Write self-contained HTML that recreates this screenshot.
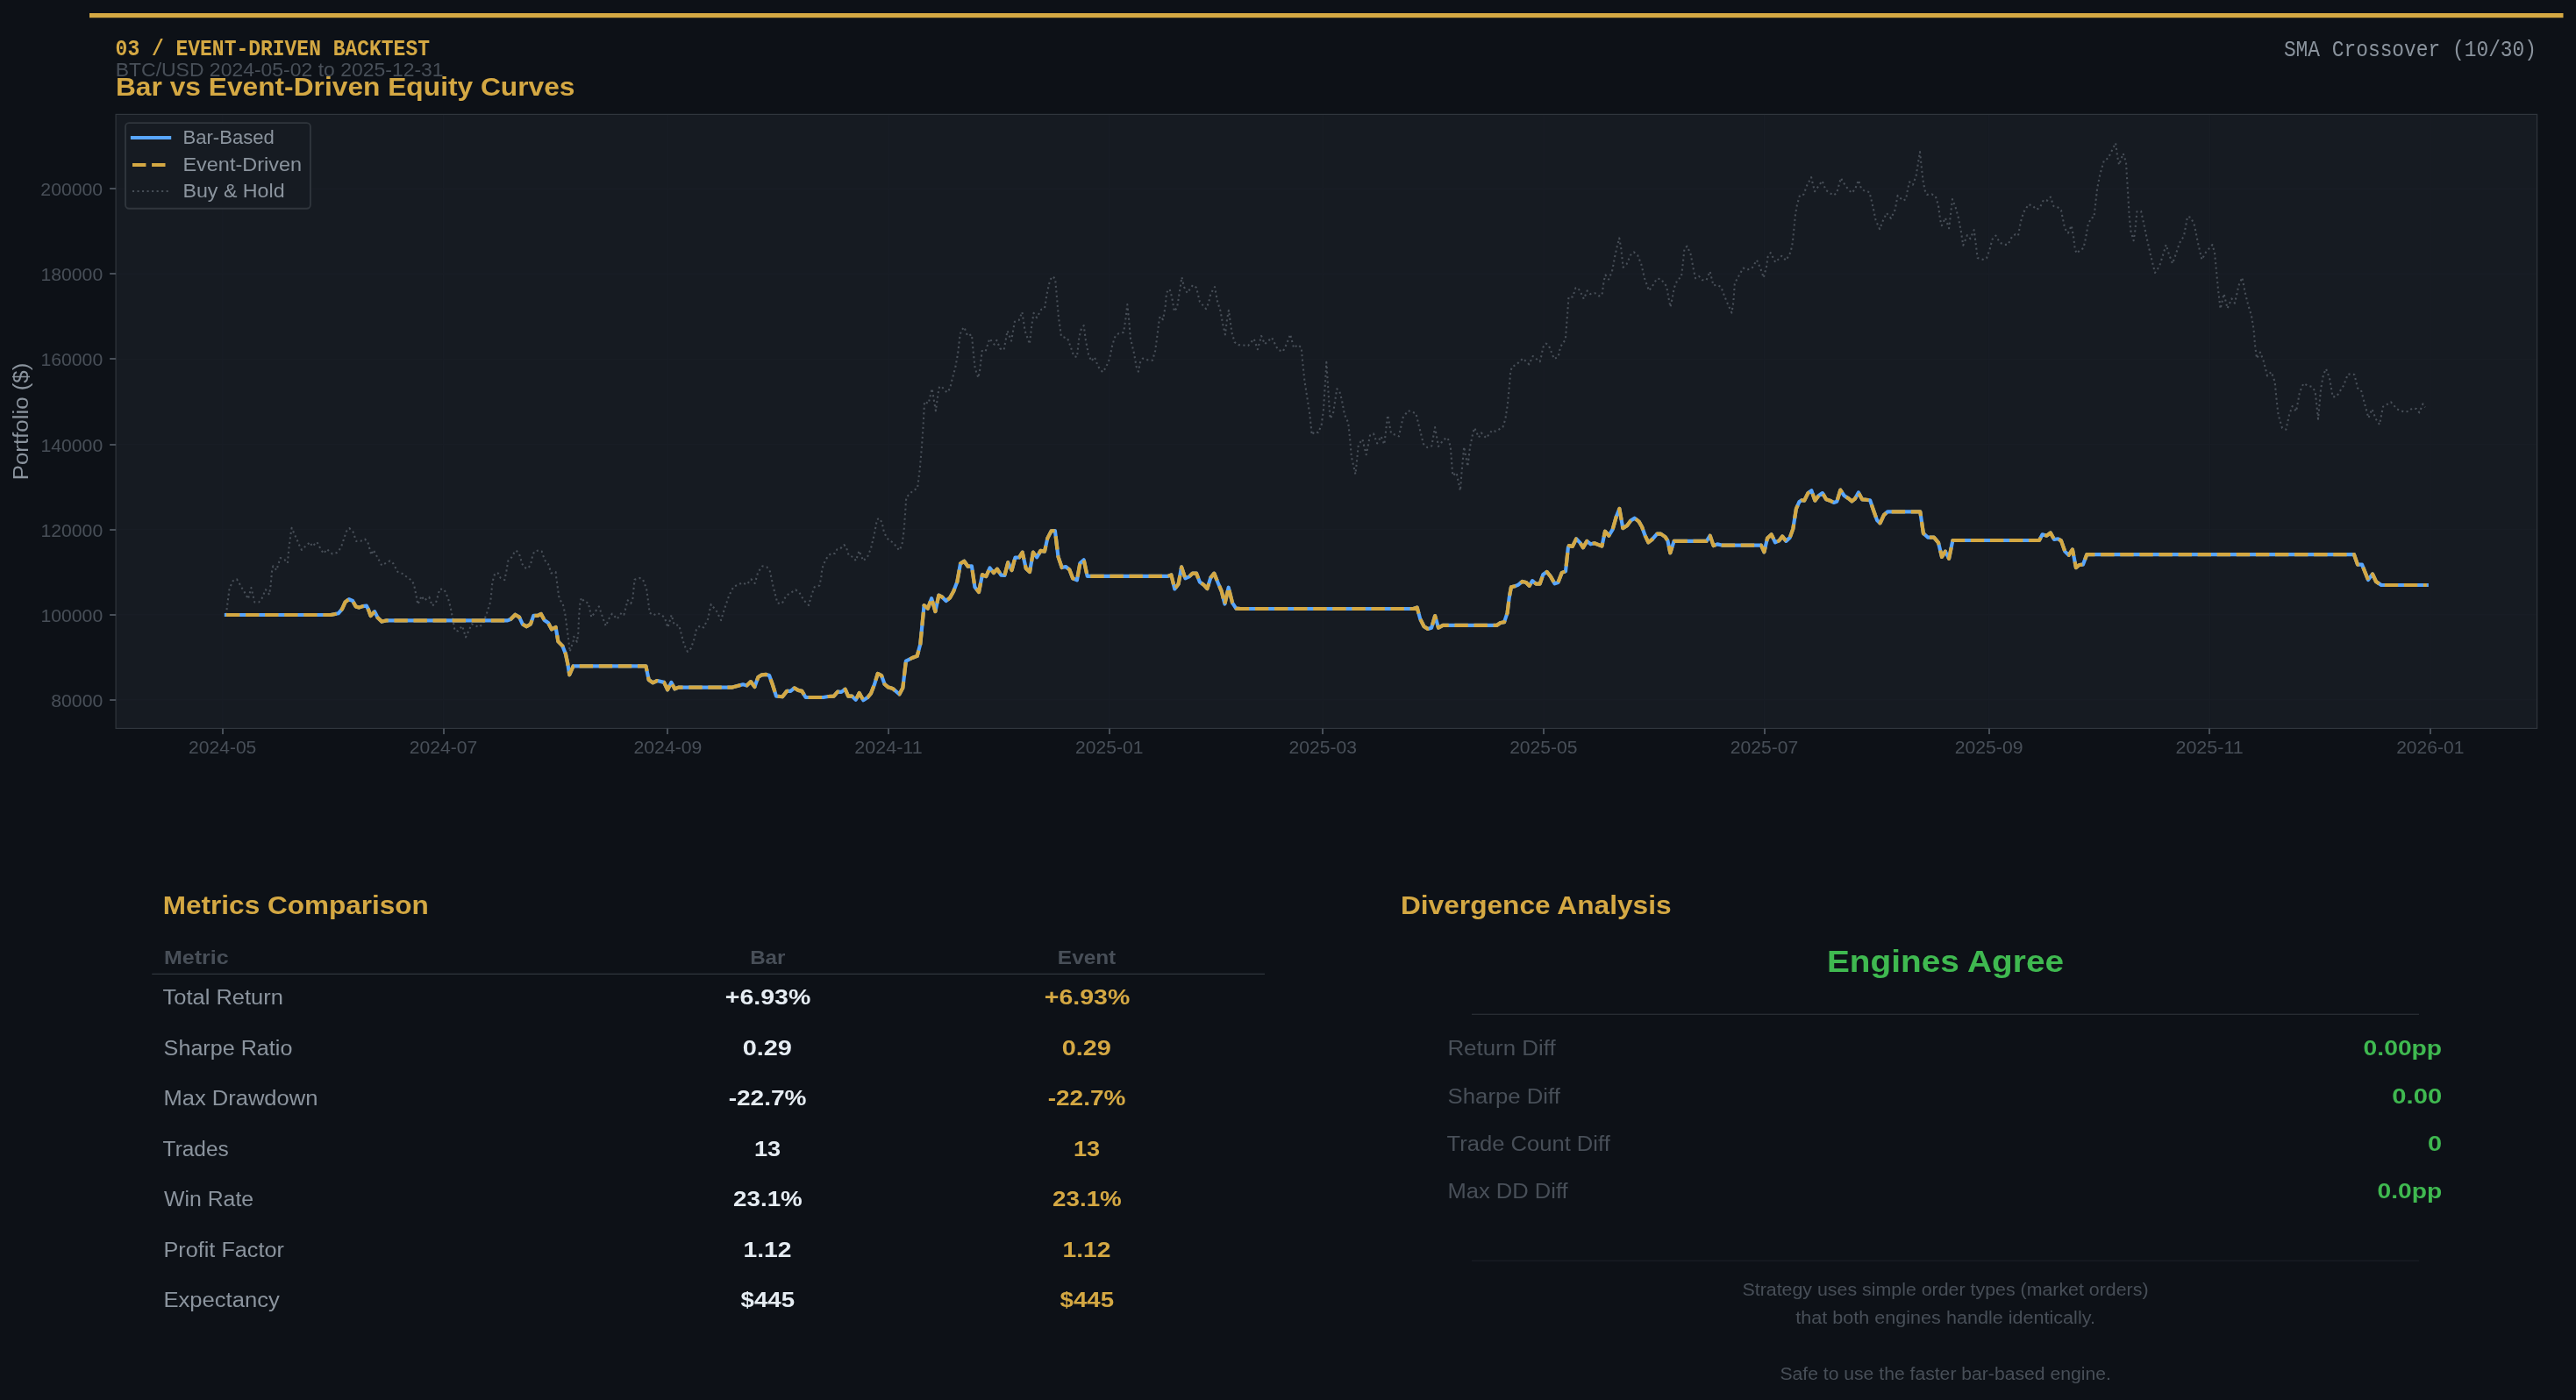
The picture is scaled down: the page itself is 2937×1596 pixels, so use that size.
<!DOCTYPE html>
<html><head><meta charset="utf-8"><title>Event-Driven Backtest</title>
<style>
html,body{margin:0;padding:0;background:#0d1117;}
body{width:2937px;height:1596px;overflow:hidden;font-family:"Liberation Sans",sans-serif;}
svg{display:block;will-change:transform;}
text{white-space:pre;}
</style></head><body>
<svg width="2937" height="1596" viewBox="0 0 2937 1596">
<rect x="0" y="0" width="2937" height="1596" fill="#0d1117"/>
<rect x="102" y="15.0" width="2820.5" height="5.2" fill="#d4a843"/>
<text x="131.60" y="63.0" font-family="Liberation Mono" font-size="24.98" font-weight="700" fill="#d4a843" textLength="358.37" lengthAdjust="spacingAndGlyphs">03 / EVENT-DRIVEN BACKTEST</text>
<text x="131.75" y="87.4" font-family="Liberation Sans" font-size="21.98" font-weight="400" fill="#484f58" textLength="373.85" lengthAdjust="spacingAndGlyphs">BTC/USD 2024-05-02 to 2025-12-31</text>
<text x="131.93" y="109.0" font-family="Liberation Sans" font-size="28.57" font-weight="700" fill="#d4a843" textLength="523.60" lengthAdjust="spacingAndGlyphs">Bar vs Event-Driven Equity Curves</text>
<text x="2603.89" y="64.4" font-family="Liberation Mono" font-size="24.98" font-weight="400" fill="#8b949e" textLength="288.16" lengthAdjust="spacingAndGlyphs">SMA Crossover (10/30)</text>
<rect x="132.1" y="130.4" width="2760.5" height="700.0" fill="#161b22"/>
<line x1="253.9" y1="130.4" x2="253.9" y2="830.4" stroke="#181d25" stroke-width="1.5"/>
<line x1="505.6" y1="130.4" x2="505.6" y2="830.4" stroke="#181d25" stroke-width="1.5"/>
<line x1="761.4" y1="130.4" x2="761.4" y2="830.4" stroke="#181d25" stroke-width="1.5"/>
<line x1="1013.2" y1="130.4" x2="1013.2" y2="830.4" stroke="#181d25" stroke-width="1.5"/>
<line x1="1264.9" y1="130.4" x2="1264.9" y2="830.4" stroke="#181d25" stroke-width="1.5"/>
<line x1="1508.3" y1="130.4" x2="1508.3" y2="830.4" stroke="#181d25" stroke-width="1.5"/>
<line x1="1760.0" y1="130.4" x2="1760.0" y2="830.4" stroke="#181d25" stroke-width="1.5"/>
<line x1="2011.7" y1="130.4" x2="2011.7" y2="830.4" stroke="#181d25" stroke-width="1.5"/>
<line x1="2267.6" y1="130.4" x2="2267.6" y2="830.4" stroke="#181d25" stroke-width="1.5"/>
<line x1="2519.3" y1="130.4" x2="2519.3" y2="830.4" stroke="#181d25" stroke-width="1.5"/>
<line x1="2771.0" y1="130.4" x2="2771.0" y2="830.4" stroke="#181d25" stroke-width="1.5"/>
<line x1="132.1" y1="797.8" x2="2892.6" y2="797.8" stroke="#181d25" stroke-width="1.5"/>
<line x1="132.1" y1="700.7" x2="2892.6" y2="700.7" stroke="#181d25" stroke-width="1.5"/>
<line x1="132.1" y1="603.6" x2="2892.6" y2="603.6" stroke="#181d25" stroke-width="1.5"/>
<line x1="132.1" y1="506.5" x2="2892.6" y2="506.5" stroke="#181d25" stroke-width="1.5"/>
<line x1="132.1" y1="409.4" x2="2892.6" y2="409.4" stroke="#181d25" stroke-width="1.5"/>
<line x1="132.1" y1="312.3" x2="2892.6" y2="312.3" stroke="#181d25" stroke-width="1.5"/>
<line x1="132.1" y1="215.2" x2="2892.6" y2="215.2" stroke="#181d25" stroke-width="1.5"/>
<path d="M258.0 700.7 L258.6 694.3 L259.3 688.6 L260.7 677.9 L261.4 672.4 L263.3 667.1 L265.7 662.1 L270.0 660.3 L273.1 665.4 L275.7 670.0 L278.6 674.7 L282.9 682.9 L286.4 670.0 L290.3 686.4 L295.3 686.4 L298.6 682.1 L302.9 672.1 L307.1 677.9 L308.6 667.1 L310.0 651.4 L311.4 645.3 L315.3 650.0 L319.6 636.0 L324.3 637.9 L327.9 641.9 L329.3 625.7 L331.4 609.3 L332.6 601.9 L337.1 612.1 L341.4 621.7 L343.9 626.9 L350.0 621.1 L353.6 618.1 L356.0 622.9 L361.4 617.9 L366.4 627.4 L369.3 631.0 L372.6 626.0 L378.9 631.4 L384.0 630.0 L387.1 626.4 L389.7 621.4 L391.4 616.4 L395.0 605.7 L398.3 602.1 L402.6 606.4 L406.1 616.9 L411.4 616.7 L416.0 614.6 L419.3 617.9 L423.3 632.6 L425.7 626.9 L430.0 634.7 L435.3 644.6 L440.0 641.9 L444.6 639.3 L448.6 642.6 L453.3 651.9 L458.6 653.9 L466.0 659.3 L469.6 661.9 L472.1 666.7 L474.3 677.9 L476.4 689.0 L480.7 679.3 L483.6 684.6 L489.3 680.7 L492.9 690.7 L497.1 686.7 L501.4 671.4 L506.4 671.9 L510.7 681.4 L513.6 692.1 L515.7 702.9 L518.6 719.0 L522.1 719.3 L527.1 713.6 L531.0 726.4 L537.9 711.4 L546.1 715.0 L550.0 711.7 L554.3 701.4 L559.3 685.7 L561.4 663.6 L564.3 653.6 L568.1 653.6 L570.7 658.9 L575.4 661.1 L576.4 655.7 L577.5 650.4 L578.4 644.9 L579.4 639.3 L583.2 635.4 L585.9 630.7 L588.6 627.5 L592.1 631.8 L593.7 637.1 L595.1 642.5 L597.9 647.0 L601.8 648.2 L604.9 643.9 L606.1 638.6 L607.3 633.1 L609.3 628.6 L614.4 627.4 L617.7 628.6 L619.4 633.7 L621.4 638.9 L625.0 643.0 L626.8 648.2 L628.4 653.4 L633.6 652.1 L634.1 657.5 L635.7 668.6 L637.0 679.3 L638.9 684.4 L641.8 688.9 L644.3 700.0 L646.4 715.7 L647.9 727.1 L649.7 742.9 L653.6 730.7 L654.3 725.7 L657.9 731.7 L659.3 721.4 L660.0 704.3 L661.4 687.9 L662.9 681.4 L666.4 686.4 L670.7 687.1 L674.3 703.6 L680.0 695.4 L682.9 691.4 L688.6 707.9 L690.7 713.6 L695.0 704.0 L697.9 699.6 L703.6 705.7 L708.6 698.6 L711.4 700.7 L715.7 684.3 L719.3 687.9 L721.4 682.1 L723.6 660.7 L729.3 658.9 L732.9 660.3 L737.1 671.4 L739.3 687.1 L740.7 698.6 L745.0 701.4 L749.3 698.9 L754.3 701.0 L757.9 704.3 L761.4 715.3 L765.7 701.0 L768.6 712.1 L774.3 712.9 L775.7 718.6 L780.0 735.0 L783.9 742.9 L787.9 738.9 L791.4 728.6 L793.9 717.9 L797.9 713.3 L802.1 715.4 L807.1 705.7 L810.7 688.9 L817.1 696.9 L822.1 707.1 L825.7 695.0 L831.4 678.6 L836.4 668.9 L846.4 664.3 L851.4 666.4 L856.4 660.3 L860.7 665.0 L864.3 652.1 L869.3 645.4 L874.3 646.4 L877.9 651.4 L881.4 667.9 L886.4 687.6 L891.7 687.9 L896.4 679.0 L901.4 676.0 L907.1 672.4 L911.4 675.4 L916.4 684.3 L922.1 690.0 L925.0 679.3 L928.6 669.3 L934.3 667.4 L936.3 658.5 L937.1 649.9 L938.6 644.4 L940.7 639.7 L943.4 634.9 L947.3 631.0 L952.0 631.0 L954.4 626.3 L958.3 625.2 L962.2 621.1 L964.6 623.1 L967.7 633.1 L972.4 634.9 L975.9 639.2 L979.5 627.9 L984.2 639.3 L989.0 634.9 L992.9 625.5 L996.8 609.0 L1000.0 592.2 L1002.6 590.9 L1005.5 595.6 L1007.8 605.9 L1010.2 611.4 L1013.3 615.8 L1018.0 618.4 L1021.7 622.7 L1025.1 627.4 L1028.3 622.0 L1030.6 605.1 L1032.2 583.1 L1033.3 567.0 L1036.9 563.4 L1040.8 559.5 L1046.0 556.6 L1048.7 535.1 L1051.1 507.6 L1052.6 485.7 L1054.0 457.9 L1058.6 460.0 L1062.6 443.1 L1066.9 468.3 L1070.0 445.7 L1071.1 440.7 L1073.6 440.7 L1079.7 447.4 L1083.1 442.9 L1085.7 432.1 L1089.3 418.6 L1092.1 402.9 L1094.3 384.3 L1095.7 377.4 L1099.3 372.9 L1103.1 382.9 L1107.9 381.4 L1109.7 401.4 L1111.7 420.0 L1115.4 430.7 L1117.1 422.1 L1119.7 400.0 L1123.6 400.7 L1128.3 386.0 L1133.6 392.6 L1136.4 387.9 L1140.3 397.4 L1144.6 398.9 L1148.6 377.1 L1153.1 388.6 L1156.9 366.7 L1161.7 365.0 L1165.4 355.7 L1168.6 377.1 L1173.9 392.1 L1176.4 370.0 L1178.6 356.9 L1182.1 362.1 L1187.1 352.9 L1191.1 351.1 L1193.6 335.0 L1197.1 319.3 L1200.3 315.0 L1203.1 317.9 L1205.0 339.3 L1206.9 361.4 L1210.0 383.6 L1217.1 385.7 L1220.7 395.4 L1224.3 406.0 L1227.9 407.1 L1230.3 385.0 L1232.9 374.6 L1235.7 371.1 L1237.9 387.9 L1241.1 404.3 L1244.3 411.7 L1247.9 407.1 L1252.1 417.9 L1257.1 424.3 L1260.7 419.3 L1265.0 409.3 L1268.3 393.1 L1271.7 382.9 L1275.7 380.0 L1281.1 378.9 L1283.6 362.1 L1285.3 347.1 L1287.1 364.3 L1288.9 386.0 L1292.9 402.4 L1295.7 418.3 L1297.9 423.6 L1300.0 413.1 L1302.9 408.6 L1308.3 410.3 L1314.0 410.7 L1317.1 400.0 L1319.3 383.6 L1321.4 367.1 L1322.6 360.7 L1326.0 364.3 L1328.6 350.0 L1330.0 333.6 L1333.6 329.6 L1336.1 338.6 L1338.9 355.0 L1342.1 350.3 L1344.6 334.6 L1347.4 316.0 L1350.0 327.1 L1353.6 334.0 L1360.0 325.0 L1364.0 327.9 L1367.9 344.0 L1375.0 352.1 L1377.9 345.7 L1380.3 335.0 L1385.0 327.1 L1387.9 343.1 L1391.4 354.3 L1394.3 370.0 L1396.9 381.4 L1398.9 365.0 L1400.9 353.7 L1402.6 365.7 L1404.3 378.6 L1407.7 390.1 L1412.0 393.1 L1417.5 393.5 L1423.1 394.0 L1429.7 386.3 L1433.9 398.3 L1438.1 382.9 L1442.0 392.3 L1450.1 384.9 L1456.9 398.6 L1462.6 400.9 L1466.9 392.3 L1471.1 381.1 L1475.1 396.6 L1479.7 393.1 L1483.7 396.2 L1485.2 412.9 L1487.4 434.3 L1490.9 456.6 L1493.4 472.9 L1495.7 495.7 L1498.9 492.1 L1502.9 493.1 L1506.6 484.9 L1508.9 467.7 L1510.6 441.1 L1512.3 412.9 L1514.0 438.6 L1515.7 466.0 L1516.6 477.2 L1520.0 471.2 L1522.6 454.0 L1524.3 443.2 L1527.2 445.8 L1530.0 456.6 L1532.9 472.4 L1537.2 482.0 L1538.9 497.7 L1540.9 520.9 L1545.4 540.6 L1546.6 529.4 L1548.8 507.2 L1553.4 500.8 L1557.7 518.3 L1562.0 496.4 L1566.0 494.3 L1570.1 505.4 L1574.5 497.4 L1578.3 506.6 L1582.2 473.4 L1586.0 493.8 L1594.9 497.4 L1599.7 475.8 L1605.4 468.1 L1614.3 471.2 L1617.7 484.9 L1622.9 506.0 L1627.2 510.1 L1632.3 508.4 L1636.1 487.1 L1640.0 508.9 L1646.4 500.8 L1650.6 499.1 L1653.7 508.9 L1656.3 542.3 L1660.6 538.9 L1664.9 559.4 L1666.6 537.2 L1669.2 509.4 L1673.4 531.7 L1676.0 509.7 L1679.4 493.4 L1681.2 487.8 L1686.0 498.6 L1688.9 493.4 L1694.5 499.4 L1701.2 490.5 L1705.2 491.7 L1713.4 486.9 L1716.3 478.0 L1718.9 460.9 L1720.9 439.4 L1722.3 423.1 L1724.0 418.0 L1728.8 415.8 L1736.4 408.6 L1743.4 415.4 L1747.7 406.0 L1755.7 412.3 L1757.1 406.8 L1759.4 395.8 L1762.6 391.6 L1765.7 393.5 L1769.6 403.4 L1772.0 409.2 L1776.7 406.5 L1779.1 395.5 L1782.2 390.8 L1784.9 386.9 L1786.1 370.7 L1787.4 354.2 L1788.5 338.5 L1793.2 338.5 L1796.4 328.3 L1799.0 328.0 L1801.9 332.7 L1805.8 340.8 L1809.7 331.4 L1813.3 335.3 L1818.4 334.2 L1823.1 337.4 L1826.5 336.6 L1828.6 320.4 L1830.5 313.4 L1834.1 318.5 L1838.0 309.4 L1841.1 292.9 L1843.5 281.9 L1846.2 271.4 L1848.2 282.7 L1850.6 304.7 L1854.5 301.3 L1858.9 291.0 L1862.8 287.4 L1867.1 290.9 L1871.3 301.3 L1874.9 317.0 L1880.1 331.4 L1883.6 326.7 L1889.1 317.6 L1893.8 318.1 L1900.1 326.4 L1902.1 337.7 L1904.5 350.0 L1906.8 339.3 L1908.7 328.3 L1912.6 318.8 L1916.9 316.0 L1918.9 299.2 L1920.5 283.2 L1923.6 280.7 L1927.6 289.8 L1930.7 306.3 L1933.1 317.3 L1937.0 314.9 L1940.9 319.2 L1945.6 319.2 L1949.6 309.4 L1953.5 325.4 L1957.4 324.8 L1962.1 327.0 L1968.1 342.4 L1974.4 356.6 L1976.3 344.8 L1977.8 323.6 L1980.2 318.5 L1987.6 305.5 L1992.0 307.5 L1997.5 305.8 L2003.0 296.5 L2007.2 306.0 L2010.8 316.5 L2014.0 303.9 L2015.6 292.9 L2018.7 288.2 L2024.2 298.9 L2031.3 291.8 L2036.3 296.9 L2041.5 287.7 L2043.8 276.7 L2045.4 260.7 L2047.0 244.2 L2049.0 233.2 L2052.0 222.7 L2056.4 221.7 L2060.3 211.2 L2065.1 202.1 L2069.0 218.3 L2077.6 206.2 L2081.6 216.7 L2090.2 222.7 L2094.1 220.2 L2098.8 203.0 L2104.3 212.1 L2111.1 220.0 L2115.0 216.0 L2118.9 205.4 L2122.1 215.0 L2126.1 217.9 L2131.4 219.0 L2134.0 229.7 L2136.4 240.3 L2138.6 251.1 L2143.1 261.1 L2146.4 252.6 L2151.0 242.9 L2156.0 248.9 L2160.7 238.9 L2163.6 222.9 L2169.7 228.6 L2173.1 227.1 L2175.0 216.0 L2177.1 207.4 L2181.0 210.7 L2184.6 200.3 L2186.4 189.3 L2189.0 173.1 L2190.7 189.7 L2192.6 206.0 L2194.6 216.9 L2197.1 221.9 L2202.6 221.4 L2206.9 224.0 L2210.0 234.3 L2212.1 250.7 L2213.9 257.1 L2217.9 248.3 L2222.1 260.3 L2224.0 244.3 L2226.0 227.1 L2229.6 236.4 L2232.6 247.1 L2235.7 263.1 L2238.3 279.7 L2242.9 268.1 L2246.4 272.1 L2250.7 262.1 L2252.6 277.1 L2254.6 293.9 L2261.7 296.0 L2265.0 294.3 L2268.6 284.3 L2271.4 273.1 L2275.4 268.6 L2280.3 276.9 L2285.3 278.9 L2289.3 278.9 L2294.3 269.3 L2297.9 267.1 L2301.0 268.6 L2304.0 252.6 L2307.1 242.1 L2312.9 232.9 L2317.9 235.0 L2321.7 238.9 L2325.7 236.9 L2330.0 227.9 L2334.3 228.6 L2337.9 224.6 L2341.4 235.0 L2345.7 236.0 L2350.0 239.7 L2352.1 250.4 L2354.3 260.7 L2357.9 265.7 L2361.7 257.1 L2364.3 271.1 L2365.7 284.3 L2367.9 288.9 L2371.4 285.0 L2375.4 283.1 L2377.9 272.1 L2380.7 256.0 L2384.3 248.3 L2387.4 247.9 L2389.3 231.4 L2391.1 215.0 L2394.3 198.9 L2398.9 182.9 L2403.6 180.4 L2408.3 170.7 L2412.1 163.1 L2414.3 179.3 L2416.1 187.9 L2420.7 175.0 L2424.0 185.0 L2425.0 202.1 L2426.4 224.3 L2427.6 245.7 L2429.3 262.9 L2432.6 274.3 L2434.3 262.9 L2436.4 241.4 L2441.1 240.7 L2444.0 254.0 L2448.0 273.0 L2452.0 291.0 L2457.0 311.0 L2462.0 303.6 L2466.0 291.0 L2469.6 279.0 L2473.0 290.0 L2477.0 300.4 L2481.0 289.0 L2485.0 277.0 L2490.0 269.0 L2494.0 247.0 L2498.0 248.0 L2502.0 257.0 L2506.0 277.0 L2510.4 296.0 L2515.0 287.6 L2519.0 283.0 L2522.4 279.0 L2525.0 288.0 L2527.0 309.0 L2529.0 330.0 L2531.6 352.0 L2535.6 335.0 L2539.6 351.6 L2544.4 340.4 L2548.0 345.6 L2552.4 325.6 L2556.4 316.4 L2559.6 333.0 L2563.0 347.0 L2567.0 360.0 L2569.6 376.0 L2571.0 393.0 L2573.0 408.6 L2577.0 401.6 L2581.0 412.4 L2585.0 428.4 L2589.6 424.0 L2593.6 435.0 L2595.6 456.0 L2597.6 473.0 L2602.0 488.0 L2606.4 489.6 L2610.0 473.0 L2613.6 463.0 L2618.0 469.0 L2622.0 447.0 L2626.4 437.0 L2631.0 439.6 L2636.0 441.0 L2639.6 446.0 L2643.0 477.6 L2646.0 444.0 L2649.0 427.0 L2652.0 420.4 L2656.0 431.0 L2659.6 452.4 L2664.0 452.0 L2672.0 439.6 L2677.0 426.4 L2684.4 427.0 L2688.0 442.4 L2692.0 445.0 L2696.0 460.0 L2700.4 476.4 L2704.4 466.4 L2709.0 478.0 L2713.0 484.0 L2717.0 463.6 L2721.6 461.0 L2726.0 458.4 L2733.0 466.4 L2741.0 469.6 L2746.0 469.0 L2750.0 465.6 L2755.0 466.0 L2758.4 470.4 L2762.4 460.4 L2765.0 464.4" fill="none" stroke="#484f58" stroke-width="2.08" stroke-dasharray="2.08 3.44" stroke-linejoin="round"/>
<path d="M257.9 701.0 L377.1 701.0 L385.7 699.3 L390.0 694.3 L393.6 686.4 L397.9 683.1 L402.1 685.0 L405.7 691.4 L409.3 692.6 L413.6 691.1 L417.9 690.7 L420.0 695.0 L422.6 702.1 L427.1 697.1 L430.7 704.3 L435.4 708.6 L440.0 707.4 L578.6 707.4 L582.1 706.0 L587.4 700.7 L592.1 703.6 L595.7 711.4 L595.7 711.4 L600.3 714.3 L605.0 711.4 L608.3 701.9 L612.9 701.9 L616.9 700.0 L620.7 707.1 L625.0 710.0 L628.9 717.4 L633.6 715.0 L636.4 731.4 L641.4 736.4 L645.0 745.7 L647.1 755.7 L649.3 769.3 L653.6 759.3 L736.4 759.3 L739.7 775.0 L744.3 778.3 L749.3 776.0 L757.1 777.9 L761.1 786.4 L765.4 777.9 L769.3 785.4 L773.6 783.6 L835.0 783.6 L847.1 780.3 L851.4 781.4 L856.0 777.1 L860.4 783.1 L864.3 772.1 L868.6 769.3 L873.6 768.9 L877.1 770.0 L880.7 780.0 L885.0 793.6 L892.1 794.3 L897.1 787.9 L901.4 787.9 L905.7 784.3 L910.0 786.9 L914.3 787.9 L918.6 795.0 L938.6 795.0 L944.3 794.0 L950.7 793.6 L955.0 788.6 L959.3 788.9 L963.6 785.7 L967.1 793.6 L971.4 793.6 L975.7 797.9 L979.7 790.0 L984.3 798.3 L989.3 795.0 L992.9 790.7 L997.1 780.0 L1000.7 767.9 L1005.0 770.0 L1008.6 780.0 L1012.9 783.6 L1017.9 785.0 L1025.4 791.4 L1029.3 784.3 L1032.9 753.6 L1040.0 750.0 L1045.7 747.9 L1049.3 734.3 L1053.6 690.0 L1057.9 693.6 L1062.1 682.1 L1066.4 697.1 L1070.3 678.6 L1074.3 680.7 L1078.6 685.0 L1082.9 681.7 L1087.1 674.3 L1091.4 662.9 L1095.0 642.6 L1099.3 639.7 L1103.6 645.7 L1107.9 645.3 L1111.4 669.3 L1116.0 675.0 L1120.0 655.0 L1124.3 657.1 L1128.6 647.4 L1132.9 653.1 L1136.9 648.6 L1141.4 655.7 L1145.4 656.0 L1149.3 641.1 L1153.6 650.0 L1157.4 635.7 L1162.1 635.3 L1165.7 629.6 L1169.7 647.9 L1174.0 652.1 L1177.9 629.6 L1182.1 635.4 L1186.4 627.9 L1191.0 628.6 L1194.3 613.6 L1198.6 605.4 L1202.9 605.0 L1206.4 634.3 L1210.7 647.1 L1215.0 646.0 L1219.3 649.3 L1223.1 659.3 L1227.9 661.4 L1231.4 642.1 L1235.7 638.3 L1239.7 656.9 L1331.4 656.9 L1335.4 655.4 L1339.3 671.4 L1343.6 665.7 L1347.1 646.4 L1351.4 659.3 L1355.7 657.4 L1359.7 653.6 L1364.0 653.6 L1367.9 663.6 L1372.1 666.4 L1376.4 671.1 L1380.3 658.6 L1384.3 653.6 L1388.6 664.3 L1392.6 673.6 L1396.4 688.6 L1400.7 669.7 L1405.0 687.1 L1409.3 693.6 L1414.3 694.0 L1611.4 694.0 L1615.7 692.6 L1619.3 705.7 L1623.6 714.3 L1627.9 716.9 L1632.1 715.7 L1636.1 702.1 L1640.0 715.7 L1645.0 712.9 L1706.4 712.9 L1710.7 710.0 L1715.0 709.3 L1718.6 698.6 L1720.7 681.4 L1722.9 669.3 L1727.1 668.3 L1730.7 666.9 L1735.7 662.9 L1740.0 664.0 L1743.6 667.9 L1747.1 662.1 L1751.4 665.7 L1755.7 665.7 L1759.3 655.0 L1763.6 651.9 L1767.9 657.1 L1772.6 665.4 L1776.4 664.0 L1780.7 652.9 L1785.0 651.4 L1787.9 624.3 L1788.9 622.1 L1792.9 622.9 L1797.1 614.3 L1801.4 618.6 L1805.0 624.3 L1809.3 616.9 L1813.6 620.3 L1817.9 619.3 L1826.4 622.6 L1830.0 605.7 L1834.3 610.7 L1838.6 603.6 L1842.9 588.6 L1846.4 580.0 L1850.3 602.1 L1855.0 599.3 L1859.3 593.6 L1863.6 590.7 L1868.6 594.6 L1872.1 600.7 L1875.7 610.7 L1879.3 618.3 L1883.6 615.0 L1889.3 608.6 L1893.6 608.6 L1898.6 612.1 L1901.4 616.4 L1904.3 630.3 L1908.6 616.9 L1945.7 616.9 L1949.7 610.7 L1953.6 622.1 L1957.9 620.4 L1964.3 621.7 L2007.9 621.7 L2011.4 629.3 L2015.0 613.6 L2019.7 609.3 L2024.0 618.3 L2028.3 616.4 L2032.1 611.4 L2036.4 616.9 L2040.7 612.9 L2044.3 602.9 L2047.9 580.0 L2051.4 572.1 L2054.3 570.3 L2057.1 570.7 L2061.4 562.1 L2065.4 559.3 L2069.3 570.7 L2073.6 565.0 L2077.9 562.1 L2082.1 569.3 L2086.4 570.7 L2090.7 572.9 L2094.3 571.7 L2098.3 558.6 L2102.6 565.0 L2107.1 567.9 L2111.4 571.4 L2115.0 568.6 L2118.9 561.4 L2123.1 569.3 L2127.4 569.7 L2132.1 570.3 L2135.7 580.7 L2140.0 592.9 L2143.6 596.4 L2147.9 587.1 L2152.1 583.4 L2155.7 583.4 L2189.3 583.4 L2192.9 607.9 L2197.9 612.6 L2205.0 612.6 L2210.0 618.6 L2214.0 635.0 L2217.9 628.6 L2222.1 636.9 L2226.4 616.0 L2325.0 616.0 L2328.6 609.3 L2333.6 610.7 L2337.9 607.4 L2342.1 615.0 L2346.4 614.3 L2350.0 616.4 L2354.3 628.6 L2358.6 632.9 L2362.9 626.4 L2366.9 647.1 L2370.7 644.0 L2375.0 643.6 L2379.3 632.1 L2684.0 632.2 L2688.0 643.6 L2693.0 643.6 L2700.0 661.0 L2705.0 654.4 L2709.0 663.0 L2715.0 667.0 L2766.8 667.0" fill="none" stroke="#58a6ff" stroke-width="4.17" stroke-linejoin="round" stroke-linecap="square"/>
<path d="M257.9 701.0 L377.1 701.0 L385.7 699.3 L390.0 694.3 L393.6 686.4 L397.9 683.1 L402.1 685.0 L405.7 691.4 L409.3 692.6 L413.6 691.1 L417.9 690.7 L420.0 695.0 L422.6 702.1 L427.1 697.1 L430.7 704.3 L435.4 708.6 L440.0 707.4 L578.6 707.4 L582.1 706.0 L587.4 700.7 L592.1 703.6 L595.7 711.4 L595.7 711.4 L600.3 714.3 L605.0 711.4 L608.3 701.9 L612.9 701.9 L616.9 700.0 L620.7 707.1 L625.0 710.0 L628.9 717.4 L633.6 715.0 L636.4 731.4 L641.4 736.4 L645.0 745.7 L647.1 755.7 L649.3 769.3 L653.6 759.3 L736.4 759.3 L739.7 775.0 L744.3 778.3 L749.3 776.0 L757.1 777.9 L761.1 786.4 L765.4 777.9 L769.3 785.4 L773.6 783.6 L835.0 783.6 L847.1 780.3 L851.4 781.4 L856.0 777.1 L860.4 783.1 L864.3 772.1 L868.6 769.3 L873.6 768.9 L877.1 770.0 L880.7 780.0 L885.0 793.6 L892.1 794.3 L897.1 787.9 L901.4 787.9 L905.7 784.3 L910.0 786.9 L914.3 787.9 L918.6 795.0 L938.6 795.0 L944.3 794.0 L950.7 793.6 L955.0 788.6 L959.3 788.9 L963.6 785.7 L967.1 793.6 L971.4 793.6 L975.7 797.9 L979.7 790.0 L984.3 798.3 L989.3 795.0 L992.9 790.7 L997.1 780.0 L1000.7 767.9 L1005.0 770.0 L1008.6 780.0 L1012.9 783.6 L1017.9 785.0 L1025.4 791.4 L1029.3 784.3 L1032.9 753.6 L1040.0 750.0 L1045.7 747.9 L1049.3 734.3 L1053.6 690.0 L1057.9 693.6 L1062.1 682.1 L1066.4 697.1 L1070.3 678.6 L1074.3 680.7 L1078.6 685.0 L1082.9 681.7 L1087.1 674.3 L1091.4 662.9 L1095.0 642.6 L1099.3 639.7 L1103.6 645.7 L1107.9 645.3 L1111.4 669.3 L1116.0 675.0 L1120.0 655.0 L1124.3 657.1 L1128.6 647.4 L1132.9 653.1 L1136.9 648.6 L1141.4 655.7 L1145.4 656.0 L1149.3 641.1 L1153.6 650.0 L1157.4 635.7 L1162.1 635.3 L1165.7 629.6 L1169.7 647.9 L1174.0 652.1 L1177.9 629.6 L1182.1 635.4 L1186.4 627.9 L1191.0 628.6 L1194.3 613.6 L1198.6 605.4 L1202.9 605.0 L1206.4 634.3 L1210.7 647.1 L1215.0 646.0 L1219.3 649.3 L1223.1 659.3 L1227.9 661.4 L1231.4 642.1 L1235.7 638.3 L1239.7 656.9 L1331.4 656.9 L1335.4 655.4 L1339.3 671.4 L1343.6 665.7 L1347.1 646.4 L1351.4 659.3 L1355.7 657.4 L1359.7 653.6 L1364.0 653.6 L1367.9 663.6 L1372.1 666.4 L1376.4 671.1 L1380.3 658.6 L1384.3 653.6 L1388.6 664.3 L1392.6 673.6 L1396.4 688.6 L1400.7 669.7 L1405.0 687.1 L1409.3 693.6 L1414.3 694.0 L1611.4 694.0 L1615.7 692.6 L1619.3 705.7 L1623.6 714.3 L1627.9 716.9 L1632.1 715.7 L1636.1 702.1 L1640.0 715.7 L1645.0 712.9 L1706.4 712.9 L1710.7 710.0 L1715.0 709.3 L1718.6 698.6 L1720.7 681.4 L1722.9 669.3 L1727.1 668.3 L1730.7 666.9 L1735.7 662.9 L1740.0 664.0 L1743.6 667.9 L1747.1 662.1 L1751.4 665.7 L1755.7 665.7 L1759.3 655.0 L1763.6 651.9 L1767.9 657.1 L1772.6 665.4 L1776.4 664.0 L1780.7 652.9 L1785.0 651.4 L1787.9 624.3 L1788.9 622.1 L1792.9 622.9 L1797.1 614.3 L1801.4 618.6 L1805.0 624.3 L1809.3 616.9 L1813.6 620.3 L1817.9 619.3 L1826.4 622.6 L1830.0 605.7 L1834.3 610.7 L1838.6 603.6 L1842.9 588.6 L1846.4 580.0 L1850.3 602.1 L1855.0 599.3 L1859.3 593.6 L1863.6 590.7 L1868.6 594.6 L1872.1 600.7 L1875.7 610.7 L1879.3 618.3 L1883.6 615.0 L1889.3 608.6 L1893.6 608.6 L1898.6 612.1 L1901.4 616.4 L1904.3 630.3 L1908.6 616.9 L1945.7 616.9 L1949.7 610.7 L1953.6 622.1 L1957.9 620.4 L1964.3 621.7 L2007.9 621.7 L2011.4 629.3 L2015.0 613.6 L2019.7 609.3 L2024.0 618.3 L2028.3 616.4 L2032.1 611.4 L2036.4 616.9 L2040.7 612.9 L2044.3 602.9 L2047.9 580.0 L2051.4 572.1 L2054.3 570.3 L2057.1 570.7 L2061.4 562.1 L2065.4 559.3 L2069.3 570.7 L2073.6 565.0 L2077.9 562.1 L2082.1 569.3 L2086.4 570.7 L2090.7 572.9 L2094.3 571.7 L2098.3 558.6 L2102.6 565.0 L2107.1 567.9 L2111.4 571.4 L2115.0 568.6 L2118.9 561.4 L2123.1 569.3 L2127.4 569.7 L2132.1 570.3 L2135.7 580.7 L2140.0 592.9 L2143.6 596.4 L2147.9 587.1 L2152.1 583.4 L2155.7 583.4 L2189.3 583.4 L2192.9 607.9 L2197.9 612.6 L2205.0 612.6 L2210.0 618.6 L2214.0 635.0 L2217.9 628.6 L2222.1 636.9 L2226.4 616.0 L2325.0 616.0 L2328.6 609.3 L2333.6 610.7 L2337.9 607.4 L2342.1 615.0 L2346.4 614.3 L2350.0 616.4 L2354.3 628.6 L2358.6 632.9 L2362.9 626.4 L2366.9 647.1 L2370.7 644.0 L2375.0 643.6 L2379.3 632.1 L2684.0 632.2 L2688.0 643.6 L2693.0 643.6 L2700.0 661.0 L2705.0 654.4 L2709.0 663.0 L2715.0 667.0 L2766.8 667.0" fill="none" stroke="#d4a843" stroke-width="4.17" stroke-dasharray="15.42 6.67" stroke-linejoin="round"/>
<rect x="132.1" y="130.4" width="2760.5" height="700.0" fill="none" stroke="#30363d" stroke-width="1.2"/>
<rect x="253" y="830.4" width="2" height="6.6" fill="#484f58"/>
<text x="215.05" y="859.2" font-family="Liberation Sans" font-size="19.78" font-weight="400" fill="#484f58" textLength="77.30" lengthAdjust="spacingAndGlyphs">2024-05</text>
<rect x="505" y="830.4" width="2" height="6.6" fill="#484f58"/>
<text x="466.75" y="859.2" font-family="Liberation Sans" font-size="19.78" font-weight="400" fill="#484f58" textLength="77.47" lengthAdjust="spacingAndGlyphs">2024-07</text>
<rect x="760" y="830.4" width="2" height="6.6" fill="#484f58"/>
<text x="722.54" y="859.2" font-family="Liberation Sans" font-size="19.78" font-weight="400" fill="#484f58" textLength="77.77" lengthAdjust="spacingAndGlyphs">2024-09</text>
<rect x="1012" y="830.4" width="2" height="6.6" fill="#484f58"/>
<text x="974.33" y="859.2" font-family="Liberation Sans" font-size="19.78" font-weight="400" fill="#484f58" textLength="77.36" lengthAdjust="spacingAndGlyphs">2024-11</text>
<rect x="1264" y="830.4" width="2" height="6.6" fill="#484f58"/>
<text x="1226.05" y="859.2" font-family="Liberation Sans" font-size="19.78" font-weight="400" fill="#484f58" textLength="77.32" lengthAdjust="spacingAndGlyphs">2025-01</text>
<rect x="1507" y="830.4" width="2" height="6.6" fill="#484f58"/>
<text x="1469.45" y="859.2" font-family="Liberation Sans" font-size="19.78" font-weight="400" fill="#484f58" textLength="77.46" lengthAdjust="spacingAndGlyphs">2025-03</text>
<rect x="1759" y="830.4" width="2" height="6.6" fill="#484f58"/>
<text x="1721.15" y="859.2" font-family="Liberation Sans" font-size="19.78" font-weight="400" fill="#484f58" textLength="77.30" lengthAdjust="spacingAndGlyphs">2025-05</text>
<rect x="2011" y="830.4" width="2" height="6.6" fill="#484f58"/>
<text x="1972.85" y="859.2" font-family="Liberation Sans" font-size="19.78" font-weight="400" fill="#484f58" textLength="77.47" lengthAdjust="spacingAndGlyphs">2025-07</text>
<rect x="2267" y="830.4" width="2" height="6.6" fill="#484f58"/>
<text x="2228.74" y="859.2" font-family="Liberation Sans" font-size="19.78" font-weight="400" fill="#484f58" textLength="77.77" lengthAdjust="spacingAndGlyphs">2025-09</text>
<rect x="2518" y="830.4" width="2" height="6.6" fill="#484f58"/>
<text x="2480.43" y="859.2" font-family="Liberation Sans" font-size="19.78" font-weight="400" fill="#484f58" textLength="77.36" lengthAdjust="spacingAndGlyphs">2025-11</text>
<rect x="2770" y="830.4" width="2" height="6.6" fill="#484f58"/>
<text x="2732.15" y="859.2" font-family="Liberation Sans" font-size="19.78" font-weight="400" fill="#484f58" textLength="77.32" lengthAdjust="spacingAndGlyphs">2026-01</text>
<rect x="125.1" y="797" width="7.0" height="2" fill="#484f58"/>
<text x="58.29" y="805.8" font-family="Liberation Sans" font-size="19.78" font-weight="400" fill="#484f58" textLength="58.93" lengthAdjust="spacingAndGlyphs">80000</text>
<rect x="125.1" y="700" width="7.0" height="2" fill="#484f58"/>
<text x="46.50" y="708.7" font-family="Liberation Sans" font-size="19.78" font-weight="400" fill="#484f58" textLength="70.68" lengthAdjust="spacingAndGlyphs">100000</text>
<rect x="125.1" y="603" width="7.0" height="2" fill="#484f58"/>
<text x="46.50" y="611.6" font-family="Liberation Sans" font-size="19.78" font-weight="400" fill="#484f58" textLength="70.68" lengthAdjust="spacingAndGlyphs">120000</text>
<rect x="125.1" y="506" width="7.0" height="2" fill="#484f58"/>
<text x="46.50" y="514.5" font-family="Liberation Sans" font-size="19.78" font-weight="400" fill="#484f58" textLength="70.68" lengthAdjust="spacingAndGlyphs">140000</text>
<rect x="125.1" y="408" width="7.0" height="2" fill="#484f58"/>
<text x="46.50" y="417.4" font-family="Liberation Sans" font-size="19.78" font-weight="400" fill="#484f58" textLength="70.68" lengthAdjust="spacingAndGlyphs">160000</text>
<rect x="125.1" y="311" width="7.0" height="2" fill="#484f58"/>
<text x="46.50" y="320.3" font-family="Liberation Sans" font-size="19.78" font-weight="400" fill="#484f58" textLength="70.68" lengthAdjust="spacingAndGlyphs">180000</text>
<rect x="125.1" y="214" width="7.0" height="2" fill="#484f58"/>
<text x="46.34" y="223.2" font-family="Liberation Sans" font-size="19.78" font-weight="400" fill="#484f58" textLength="70.85" lengthAdjust="spacingAndGlyphs">200000</text>
<text x="-34.79" y="480.4" font-family="Liberation Sans" font-size="24.18" font-weight="400" fill="#8b949e" textLength="133.55" lengthAdjust="spacingAndGlyphs" transform="rotate(-90 32.1 480.4)">Portfolio ($)</text>
<rect x="143" y="140.1" width="210.9" height="97.7" rx="4.2" ry="4.2" fill="#161b22" stroke="#30363d" stroke-width="1.9"/>
<line x1="148.9" y1="157" x2="195.2" y2="157" stroke="#58a6ff" stroke-width="4.17"/>
<line x1="151" y1="188" x2="193.1" y2="188" stroke="#d4a843" stroke-width="4.17" stroke-dasharray="15.42 6.67"/>
<line x1="151" y1="218" x2="193.1" y2="218" stroke="#484f58" stroke-width="2.08" stroke-dasharray="2.08 3.44"/>
<text x="208.52" y="164.1" font-family="Liberation Sans" font-size="21.98" font-weight="400" fill="#8b949e" textLength="104.31" lengthAdjust="spacingAndGlyphs">Bar-Based</text>
<text x="208.41" y="194.7" font-family="Liberation Sans" font-size="21.98" font-weight="400" fill="#8b949e" textLength="135.61" lengthAdjust="spacingAndGlyphs">Event-Driven</text>
<text x="208.43" y="225.3" font-family="Liberation Sans" font-size="21.98" font-weight="400" fill="#8b949e" textLength="116.21" lengthAdjust="spacingAndGlyphs">Buy &amp; Hold</text>
<text x="185.84" y="1042.2" font-family="Liberation Sans" font-size="28.57" font-weight="700" fill="#d4a843" textLength="302.91" lengthAdjust="spacingAndGlyphs">Metrics Comparison</text>
<text x="187.01" y="1099.0" font-family="Liberation Sans" font-size="21.98" font-weight="700" fill="#484f58" textLength="73.72" lengthAdjust="spacingAndGlyphs">Metric</text>
<text x="855.16" y="1099.0" font-family="Liberation Sans" font-size="21.98" font-weight="700" fill="#484f58" textLength="40.30" lengthAdjust="spacingAndGlyphs">Bar</text>
<text x="1205.89" y="1099.0" font-family="Liberation Sans" font-size="21.98" font-weight="700" fill="#484f58" textLength="66.37" lengthAdjust="spacingAndGlyphs">Event</text>
<line x1="173.2" y1="1110.4" x2="1442" y2="1110.4" stroke="#30363d" stroke-width="1.1"/>
<text x="185.61" y="1145.2" font-family="Liberation Sans" font-size="24.18" font-weight="400" fill="#8b949e" textLength="137.30" lengthAdjust="spacingAndGlyphs">Total Return</text>
<text x="826.84" y="1145.2" font-family="Liberation Sans" font-size="24.18" font-weight="700" fill="#e6edf3" textLength="97.45" lengthAdjust="spacingAndGlyphs">+6.93%</text>
<text x="1190.84" y="1145.2" font-family="Liberation Sans" font-size="24.18" font-weight="700" fill="#d4a843" textLength="97.45" lengthAdjust="spacingAndGlyphs">+6.93%</text>
<text x="186.64" y="1202.7" font-family="Liberation Sans" font-size="24.18" font-weight="400" fill="#8b949e" textLength="146.76" lengthAdjust="spacingAndGlyphs">Sharpe Ratio</text>
<text x="846.67" y="1202.7" font-family="Liberation Sans" font-size="24.18" font-weight="700" fill="#e6edf3" textLength="56.24" lengthAdjust="spacingAndGlyphs">0.29</text>
<text x="1210.67" y="1202.7" font-family="Liberation Sans" font-size="24.18" font-weight="700" fill="#d4a843" textLength="56.24" lengthAdjust="spacingAndGlyphs">0.29</text>
<text x="186.44" y="1260.1" font-family="Liberation Sans" font-size="24.18" font-weight="400" fill="#8b949e" textLength="175.94" lengthAdjust="spacingAndGlyphs">Max Drawdown</text>
<text x="830.65" y="1260.1" font-family="Liberation Sans" font-size="24.18" font-weight="700" fill="#e6edf3" textLength="88.78" lengthAdjust="spacingAndGlyphs">-22.7%</text>
<text x="1194.65" y="1260.1" font-family="Liberation Sans" font-size="24.18" font-weight="700" fill="#d4a843" textLength="88.78" lengthAdjust="spacingAndGlyphs">-22.7%</text>
<text x="185.64" y="1317.6" font-family="Liberation Sans" font-size="24.18" font-weight="400" fill="#8b949e" textLength="75.13" lengthAdjust="spacingAndGlyphs">Trades</text>
<text x="859.95" y="1317.6" font-family="Liberation Sans" font-size="24.18" font-weight="700" fill="#e6edf3" textLength="30.21" lengthAdjust="spacingAndGlyphs">13</text>
<text x="1223.95" y="1317.6" font-family="Liberation Sans" font-size="24.18" font-weight="700" fill="#d4a843" textLength="30.21" lengthAdjust="spacingAndGlyphs">13</text>
<text x="187.01" y="1375.0" font-family="Liberation Sans" font-size="24.18" font-weight="400" fill="#8b949e" textLength="102.12" lengthAdjust="spacingAndGlyphs">Win Rate</text>
<text x="836.06" y="1375.0" font-family="Liberation Sans" font-size="24.18" font-weight="700" fill="#e6edf3" textLength="78.71" lengthAdjust="spacingAndGlyphs">23.1%</text>
<text x="1200.06" y="1375.0" font-family="Liberation Sans" font-size="24.18" font-weight="700" fill="#d4a843" textLength="78.71" lengthAdjust="spacingAndGlyphs">23.1%</text>
<text x="186.47" y="1432.5" font-family="Liberation Sans" font-size="24.18" font-weight="400" fill="#8b949e" textLength="137.47" lengthAdjust="spacingAndGlyphs">Profit Factor</text>
<text x="847.56" y="1432.5" font-family="Liberation Sans" font-size="24.18" font-weight="700" fill="#e6edf3" textLength="54.90" lengthAdjust="spacingAndGlyphs">1.12</text>
<text x="1211.56" y="1432.5" font-family="Liberation Sans" font-size="24.18" font-weight="700" fill="#d4a843" textLength="54.90" lengthAdjust="spacingAndGlyphs">1.12</text>
<text x="186.44" y="1489.9" font-family="Liberation Sans" font-size="24.18" font-weight="400" fill="#8b949e" textLength="132.31" lengthAdjust="spacingAndGlyphs">Expectancy</text>
<text x="844.58" y="1489.9" font-family="Liberation Sans" font-size="24.18" font-weight="700" fill="#e6edf3" textLength="61.47" lengthAdjust="spacingAndGlyphs">$445</text>
<text x="1208.58" y="1489.9" font-family="Liberation Sans" font-size="24.18" font-weight="700" fill="#d4a843" textLength="61.47" lengthAdjust="spacingAndGlyphs">$445</text>
<text x="1596.93" y="1042.2" font-family="Liberation Sans" font-size="28.57" font-weight="700" fill="#d4a843" textLength="308.65" lengthAdjust="spacingAndGlyphs">Divergence Analysis</text>
<text x="2082.98" y="1108.0" font-family="Liberation Sans" font-size="35.17" font-weight="700" fill="#3fb950" textLength="270.06" lengthAdjust="spacingAndGlyphs">Engines Agree</text>
<line x1="1678" y1="1156.3" x2="2758" y2="1156.3" stroke="#30363d" stroke-width="1.1"/>
<text x="1650.41" y="1203.2" font-family="Liberation Sans" font-size="24.18" font-weight="400" fill="#484f58" textLength="123.31" lengthAdjust="spacingAndGlyphs">Return Diff</text>
<text x="2694.62" y="1203.2" font-family="Liberation Sans" font-size="24.18" font-weight="700" fill="#3fb950" textLength="89.49" lengthAdjust="spacingAndGlyphs">0.00pp</text>
<text x="1650.62" y="1257.6" font-family="Liberation Sans" font-size="24.18" font-weight="400" fill="#484f58" textLength="128.31" lengthAdjust="spacingAndGlyphs">Sharpe Diff</text>
<text x="2727.39" y="1257.6" font-family="Liberation Sans" font-size="24.18" font-weight="700" fill="#3fb950" textLength="56.73" lengthAdjust="spacingAndGlyphs">0.00</text>
<text x="1649.61" y="1312.0" font-family="Liberation Sans" font-size="24.18" font-weight="400" fill="#484f58" textLength="186.16" lengthAdjust="spacingAndGlyphs">Trade Count Diff</text>
<text x="2768.00" y="1312.0" font-family="Liberation Sans" font-size="24.18" font-weight="700" fill="#3fb950" textLength="16.09" lengthAdjust="spacingAndGlyphs">0</text>
<text x="1650.44" y="1366.4" font-family="Liberation Sans" font-size="24.18" font-weight="400" fill="#484f58" textLength="137.26" lengthAdjust="spacingAndGlyphs">Max DD Diff</text>
<text x="2710.57" y="1366.4" font-family="Liberation Sans" font-size="24.18" font-weight="700" fill="#3fb950" textLength="73.62" lengthAdjust="spacingAndGlyphs">0.0pp</text>
<line x1="1678" y1="1437.2" x2="2758" y2="1437.2" stroke="#1c2128" stroke-width="1.1"/>
<text x="1986.48" y="1476.8" font-family="Liberation Sans" font-size="19.78" font-weight="400" fill="#484f58" textLength="463.08" lengthAdjust="spacingAndGlyphs">Strategy uses simple order types (market orders)</text>
<text x="2047.26" y="1508.8" font-family="Liberation Sans" font-size="19.78" font-weight="400" fill="#484f58" textLength="341.65" lengthAdjust="spacingAndGlyphs">that both engines handle identically.</text>
<text x="2029.40" y="1572.8" font-family="Liberation Sans" font-size="19.78" font-weight="400" fill="#484f58" textLength="377.41" lengthAdjust="spacingAndGlyphs">Safe to use the faster bar-based engine.</text>
</svg>
</body></html>
